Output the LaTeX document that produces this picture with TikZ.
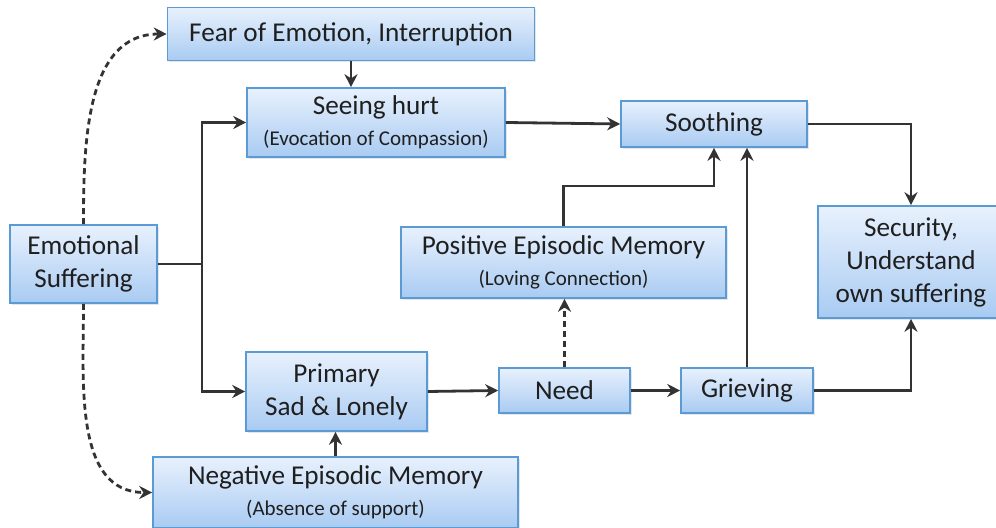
\documentclass[tikz,border=0pt]{standalone}
\usepackage{fontspec}
\setmainfont{Carlito}
\usetikzlibrary{arrows.meta,positioning,shadows}

\definecolor{boxline}{HTML}{5B9BD5}
\definecolor{boxtop}{HTML}{E8F1FD}
\definecolor{boxbottom}{HTML}{A9CBF2}
\definecolor{linkgray}{HTML}{333333}

\newcommand{\subline}[1]{{\fontsize{10.5}{12}\selectfont #1}}

\tikzset{
  stage/.style={draw=boxline, line width=0.8pt, top color=boxtop, bottom color=boxbottom,
    align=center, inner sep=0pt, text=black!88,
    font=\fontsize{13.6}{16.5}\selectfont,
    drop shadow={opacity=0.2, shadow xshift=0.8pt, shadow yshift=-0.8pt}},
  link/.style={draw=linkgray, line width=1.4pt, -{Stealth[length=6.5pt,width=6.5pt]}},
  maybe/.style={link, dash pattern=on 3pt off 2pt},
}

\begin{document}
\begin{tikzpicture}[x=0.5pt, y=-0.5pt]
  \useasboundingbox (0,0) rectangle (996,528);

  % Define nodes
  \node[stage, minimum width=183.5pt, minimum height=26.5pt] (fear) at (351,34) {Fear of Emotion, Interruption};
  \node[stage, minimum width=129pt, minimum height=34.5pt] (seeing) at (376,122.5) {Seeing hurt\\[-1pt]\subline{(Evocation of Compassion)}};
  \node[stage, minimum width=93pt, minimum height=23pt] (soothing) at (714,124) {Soothing};
  \node[stage, minimum width=73.5pt, minimum height=39pt] (suffering) at (83.5,264) {Emotional\\Suffering};
  \node[stage, minimum width=162.5pt, minimum height=35.5pt] (positive) at (563.5,262.5) {Positive Episodic Memory\\[-1pt]\subline{(Loving Connection)}};
  \node[stage, minimum width=93pt, minimum height=56pt] (security) at (911,262) {Security,\\Understand\\own suffering};
  \node[stage, minimum width=90.5pt, minimum height=39.5pt] (primary) at (336.5,391.5) {Primary\\Sad \& Lonely};
  \node[stage, minimum width=65.5pt, minimum height=22.5pt] (need) at (564.5,390.5) {Need};
  \node[stage, minimum width=66pt, minimum height=22.5pt] (grieving) at (747,390.5) {Grieving};
  \node[stage, minimum width=182.5pt, minimum height=35.5pt] (negative) at (335.5,492.5) {Negative Episodic Memory\\[-1pt]\subline{(Absence of support)}};

  \coordinate (split) at (202,264);
  \coordinate (merge) at (563.5,186);

  % Connect the nodes
  \draw[link, -] (suffering.east) -- (split);
  \draw[link] (split) |- (seeing.west);
  \draw[link] (split) |- (primary.west);
  \draw[link] (fear.south) -- (fear.south |- seeing.north);
  \draw[link] (seeing.east) -- (soothing.west);
  \draw[link] (soothing.east) -| (security.north);
  \draw[link] (positive.north) -- (merge) -| (soothing.south);
  \draw[link] (grieving.north) -- (grieving.north |- soothing.south);
  \draw[link] (primary.east) -- (need.west);
  \draw[link] (need.east) -- (grieving.west);
  \draw[link] (grieving.east) -| (security.south);
  \draw[link] (negative.north) -- (negative.north |- primary.south);
  \draw[maybe] (need.north) -- (need.north |- positive.south);
  \draw[maybe] (suffering.north) to[out=90, in=180] (fear.west);
  \draw[maybe] (suffering.south) to[out=-90, in=180] (negative.west);
\end{tikzpicture}
\end{document}
